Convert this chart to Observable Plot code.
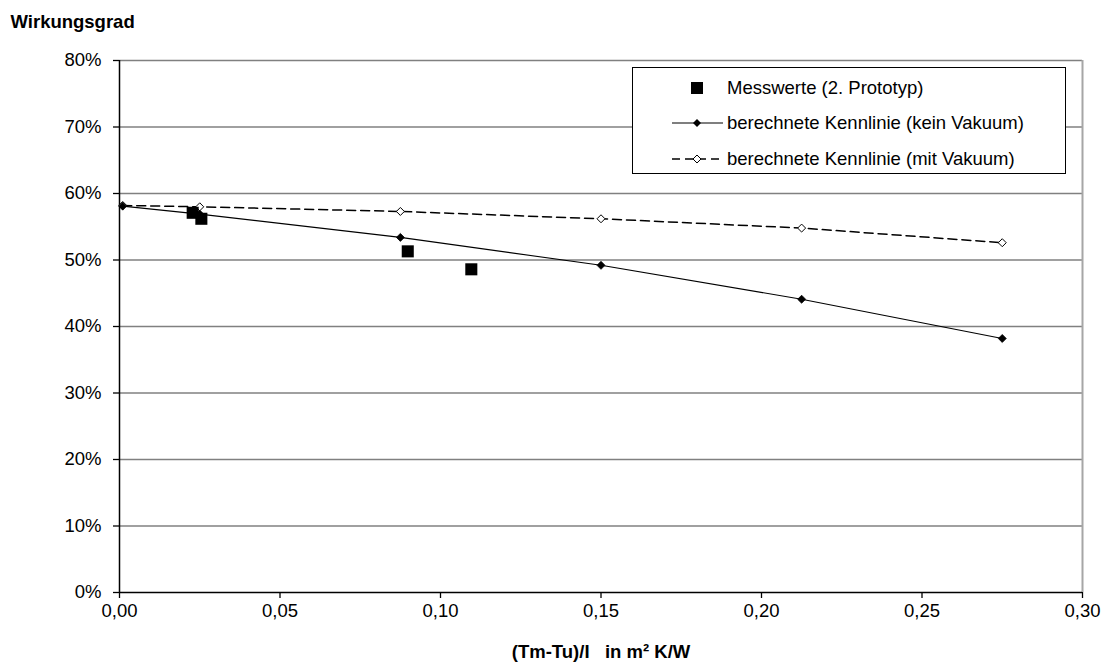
<!DOCTYPE html>
<html><head><meta charset="utf-8">
<script src="https://cdn.jsdelivr.net/npm/d3@7"></script>
<script src="https://cdn.jsdelivr.net/npm/@observablehq/plot@0.6"></script>
<style>
html,body{margin:0;padding:0;background:#fff;}
#wrap{position:relative;width:1103px;height:663px;font-family:"Liberation Sans",Arial,sans-serif;}
#wrap svg{display:block;}
#legend{position:absolute;left:632px;top:67px;}
</style></head><body><div id="wrap"></div>
<script>
// Data
const xCalc = [0.001, 0.025, 0.0875, 0.15, 0.2125, 0.275];
const yKeinVakuum = [58.1, 56.9, 53.4, 49.2, 44.1, 38.2];
const yMitVakuum  = [58.2, 58.0, 57.3, 56.2, 54.8, 52.6];
const xMess = [0.0228, 0.0255, 0.0898, 0.1096];
const yMess = [57.1, 56.2, 51.3, 48.6];
const xTicks = [0, 0.05, 0.10, 0.15, 0.20, 0.25, 0.30];
const yTicks = [0, 10, 20, 30, 40, 50, 60, 70, 80];
const seriesNames = ["Messwerte (2. Prototyp)", "berechnete Kennlinie (kein Vakuum)", "berechnete Kennlinie (mit Vakuum)"];
const yTitle = "Wirkungsgrad";
const xTitle = "(Tm-Tu)/I\u00a0\u00a0\u00a0in m² K/W";

const kein = xCalc.map((x, i) => ({x, y: yKeinVakuum[i]}));
const mit = xCalc.map((x, i) => ({x, y: yMitVakuum[i]}));
const mess = xMess.map((x, i) => ({x, y: yMess[i]}));

const FONT = "Liberation Sans, Arial, sans-serif";
const FS = 18.5;

const plot = Plot.plot({
  width: 1103, height: 663,
  marginLeft: 119, marginRight: 21, marginTop: 60, marginBottom: 71,
  style: {fontFamily: FONT, fontSize: FS + "px", color: "#000", background: "#fff", overflow: "visible"},
  x: {domain: [0, 0.3]},
  y: {domain: [0, 80]},
  marks: [
    Plot.ruleY(yTicks.filter(d => d > 0), {stroke: "#808080", strokeWidth: 1.3}),
    Plot.ruleX([0.3], {stroke: "#a6a6a6", strokeWidth: 2}),
    Plot.axisY({ticks: yTicks, tickFormat: d => d + "%", tickSize: 6, tickPadding: 12, label: null, strokeWidth: 1.3, fontSize: FS}),
    Plot.axisX({ticks: xTicks, tickFormat: d => d.toFixed(2).replace(".", ","), tickSize: 6, tickPadding: 5, label: null, strokeWidth: 1.3, fontSize: FS}),
    Plot.ruleX([0], {stroke: "#000", strokeWidth: 1.5}),
    Plot.ruleY([0], {stroke: "#000", strokeWidth: 1.5}),
    Plot.line(mit, {x: "x", y: "y", stroke: "#000", strokeWidth: 1.5, strokeDasharray: "9,5"}),
    Plot.line(kein, {x: "x", y: "y", stroke: "#000", strokeWidth: 1.1}),
    Plot.dot(mit, {x: "x", y: "y", symbol: "diamond2", r: 3.6, fill: "#fff", stroke: "#000", strokeWidth: 1}),
    Plot.dot(kein, {x: "x", y: "y", symbol: "diamond2", r: 3.6, fill: "#000", stroke: "#000", strokeWidth: 0.8}),
    Plot.dot(mess, {x: "x", y: "y", symbol: "square", r: 6.8, fill: "#000", stroke: "none"}),
    Plot.text([yTitle], {text: d => d, frameAnchor: "top-left", dx: -109, dy: -38.5, textAnchor: "start", lineAnchor: "middle", fontWeight: "bold", fontSize: FS}),
    Plot.text([xTitle], {text: d => d, frameAnchor: "bottom", dy: 60, textAnchor: "middle", lineAnchor: "middle", fontWeight: "bold", fontSize: FS})
  ]
});
const wrap = document.getElementById("wrap");
wrap.appendChild(plot);

// Legend
const W = 434, H = 107;
const L = d3.create("svg").attr("id", "legend").attr("width", W).attr("height", H)
  .style("font-family", FONT).style("font-size", FS + "px");
L.append("rect").attr("x", 0.5).attr("y", 0.5).attr("width", W - 1).attr("height", H - 1)
  .attr("fill", "#fff").attr("stroke", "#000").attr("stroke-width", 1);
const rows = [21, 56, 92];
L.append("rect").attr("x", 59).attr("y", rows[0] - 6).attr("width", 12).attr("height", 12).attr("fill", "#000");
L.append("line").attr("x1", 40).attr("x2", 91).attr("y1", rows[1]).attr("y2", rows[1]).attr("stroke", "#000").attr("stroke-width", 1.1);
L.append("path").attr("d", d3.symbol(d3.symbolDiamond2, 40.7)()).attr("transform", `translate(65,${rows[1]})`).attr("fill", "#000");
L.append("line").attr("x1", 40).attr("x2", 91).attr("y1", rows[2]).attr("y2", rows[2]).attr("stroke", "#000").attr("stroke-width", 1.5).attr("stroke-dasharray", "8,5");
L.append("path").attr("d", d3.symbol(d3.symbolDiamond2, 40.7)()).attr("transform", `translate(65,${rows[2]})`).attr("fill", "#fff").attr("stroke", "#000");
seriesNames.forEach((n, i) => {
  L.append("text").attr("x", 95).attr("y", rows[i]).attr("dy", "0.35em").text(n);
});
wrap.appendChild(L.node());
</script></body></html>
